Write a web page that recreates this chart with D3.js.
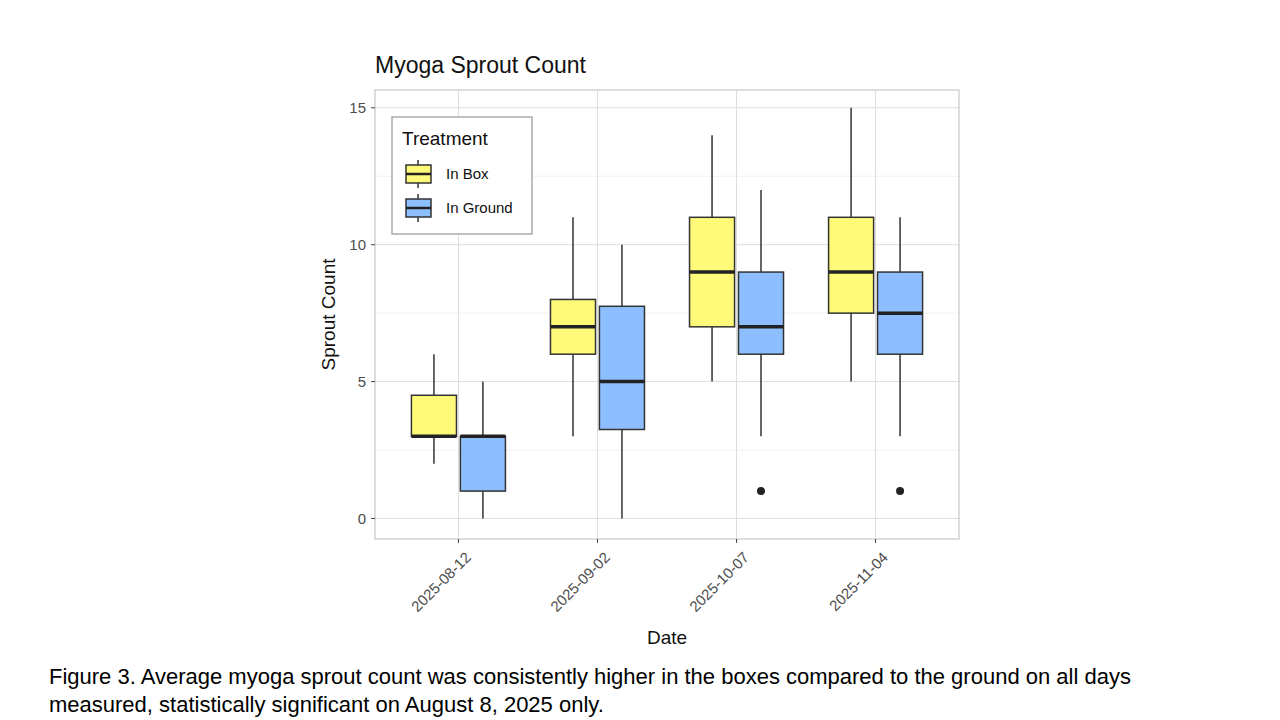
<!DOCTYPE html>
<html>
<head>
<meta charset="utf-8">
<script src="https://cdn.jsdelivr.net/npm/d3@7/dist/d3.min.js"></script>
<style>
  body { margin: 0; background: #fff; font-family: "Liberation Sans", Arial, sans-serif; }
</style>
</head>
<body>
<svg id="chart" width="1280" height="720"></svg>
<script>
const dates = ['2025-08-12', '2025-09-02', '2025-10-07', '2025-11-04']
const treatments = ['In Box', 'In Ground']
const colors = ['#FFF97A', '#8DBEFF']
// [whiskerLow, q1, median, q3, whiskerHigh] per date
const inBox = [[2, 3, 3, 4.5, 6], [3, 6, 7, 8, 11], [5, 7, 9, 11, 14], [5, 7.5, 9, 11, 15]]
const inGround = [[0, 1, 3, 3, 5], [0, 3.25, 5, 7.75, 10], [3, 6, 7, 9, 12], [3, 6, 7.5, 9, 11]]
const outliers = [[], [], [1], [1]] // in ground only
const yTicks = [0, 5, 10, 15]

const svg = d3.select('#chart')
const pLeft = 375, pRight = 959, pTop = 90, pBottom = 539

const x = d3.scaleBand().domain(dates).range([pLeft, pRight]).paddingInner(0).paddingOuter(0.1)
const y = d3.scaleLinear().domain([-0.75, 15.65]).range([pBottom, pTop])
const sub = d3.scaleBand().domain(treatments).range([0, x.bandwidth()]).paddingInner(0.08).paddingOuter(0.46)

// grid
const g = svg.append('g')
const minor = [2.5, 7.5, 12.5]
minor.forEach(v => g.append('line').attr('x1', pLeft).attr('x2', pRight).attr('y1', y(v)).attr('y2', y(v)).attr('stroke', '#f0f0f0'))
yTicks.forEach(v => g.append('line').attr('x1', pLeft).attr('x2', pRight).attr('y1', y(v)).attr('y2', y(v)).attr('stroke', '#dedede'))
dates.forEach(d => {
  const cx = x(d) + x.bandwidth() / 2
  g.append('line').attr('x1', cx).attr('x2', cx).attr('y1', pTop).attr('y2', pBottom).attr('stroke', '#dedede')
})

// boxes
const series = [inBox, inGround]
series.forEach((s, si) => {
  s.forEach((st, di) => {
    const x0 = x(dates[di]) + sub(treatments[si])
    const w = sub.bandwidth()
    const cx = x0 + w / 2
    g.append('line').attr('x1', cx).attr('x2', cx).attr('y1', y(st[0])).attr('y2', y(st[4])).attr('stroke', '#333').attr('stroke-width', 1.5)
    g.append('rect').attr('x', x0).attr('y', y(st[3])).attr('width', w).attr('height', y(st[1]) - y(st[3]))
      .attr('fill', colors[si]).attr('stroke', '#333').attr('stroke-width', 1.5)
    g.append('line').attr('x1', x0).attr('x2', x0 + w).attr('y1', y(st[2])).attr('y2', y(st[2])).attr('stroke', '#222').attr('stroke-width', 3.5)
    if (si === 1) {
      outliers[di].forEach(o => g.append('circle').attr('cx', cx).attr('cy', y(o)).attr('r', 4).attr('fill', '#222'))
    }
  })
})

// panel border
svg.append('rect').attr('x', pLeft).attr('y', pTop).attr('width', pRight - pLeft).attr('height', pBottom - pTop)
  .attr('fill', 'none').attr('stroke', '#bbb')

// y axis
yTicks.forEach(v => {
  svg.append('line').attr('x1', pLeft - 4).attr('x2', pLeft).attr('y1', y(v)).attr('y2', y(v)).attr('stroke', '#444')
  svg.append('text').attr('x', pLeft - 9).attr('y', y(v)).attr('dy', '0.35em').attr('text-anchor', 'end')
    .attr('font-size', 15).attr('fill', '#4d4d4d').text(v)
})
// x axis
dates.forEach(d => {
  const cx = x(d) + x.bandwidth() / 2
  svg.append('line').attr('x1', cx).attr('x2', cx).attr('y1', pBottom).attr('y2', pBottom + 4).attr('stroke', '#444')
  svg.append('text').attr('transform', `translate(${cx + 6},${pBottom + 12}) rotate(-45)`).attr('text-anchor', 'end')
    .attr('font-size', 15).attr('fill', '#4d4d4d').attr('dy', '0.7em').text(d)
})

svg.append('text').attr('x', (pLeft + pRight) / 2).attr('y', 644).attr('text-anchor', 'middle').attr('font-size', 19).attr('fill', '#111').text('Date')
svg.append('text').attr('transform', `translate(335,${(pTop + pBottom) / 2}) rotate(-90)`).attr('text-anchor', 'middle')
  .attr('font-size', 19).attr('fill', '#111').text('Sprout Count')
svg.append('text').attr('x', pLeft).attr('y', 73).attr('font-size', 23).attr('fill', '#111').text('Myoga Sprout Count')

// legend
const lg = svg.append('g')
lg.append('rect').attr('x', 392).attr('y', 117).attr('width', 140).attr('height', 117).attr('fill', '#fff').attr('stroke', '#aaa').attr('stroke-width', 1.5)
lg.append('text').attr('x', 402).attr('y', 145).attr('font-size', 19).attr('fill', '#111').text('Treatment')
treatments.forEach((t, i) => {
  const cy = 174 + i * 34
  lg.append('line').attr('x1', 418).attr('x2', 418).attr('y1', cy - 14).attr('y2', cy + 14).attr('stroke', '#333').attr('stroke-width', 1.5)
  lg.append('rect').attr('x', 406).attr('y', cy - 9).attr('width', 25).attr('height', 18).attr('fill', colors[i]).attr('stroke', '#333').attr('stroke-width', 1.5)
  lg.append('line').attr('x1', 406).attr('x2', 431).attr('y1', cy).attr('y2', cy).attr('stroke', '#222').attr('stroke-width', 2.5)
  lg.append('text').attr('x', 446).attr('y', cy).attr('dy', '0.35em').attr('font-size', 15).attr('fill', '#111').text(t)
})

// caption
svg.append('text').attr('x', 49).attr('y', 684).attr('font-size', 22).attr('fill', '#000')
  .text('Figure 3. Average myoga sprout count was consistently higher in the boxes compared to the ground on all days')
svg.append('text').attr('x', 49).attr('y', 712).attr('font-size', 22).attr('fill', '#000')
  .text('measured, statistically significant on August 8, 2025 only.')
</script>
</body>
</html>
